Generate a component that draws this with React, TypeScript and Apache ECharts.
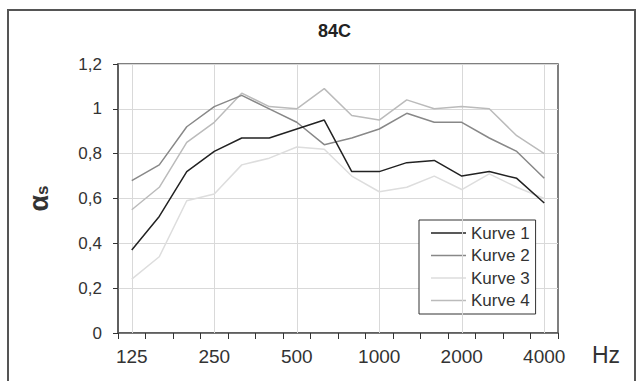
import React, { useEffect, useRef } from "react";
import * as echarts from "echarts";

const frequencies = ["125", "160", "200", "250", "315", "400", "500", "630", "800", "1000", "1250", "1600", "2000", "2500", "3150", "4000"];
const octaveLabels = ["125", "250", "500", "1000", "2000", "4000"];
const seriesNames = ["Kurve 1", "Kurve 2", "Kurve 3", "Kurve 4"];
const kurve1 = [0.37, 0.52, 0.72, 0.81, 0.87, 0.87, 0.91, 0.95, 0.72, 0.72, 0.76, 0.77, 0.70, 0.72, 0.69, 0.58];
const kurve2 = [0.68, 0.75, 0.92, 1.01, 1.06, 1.0, 0.94, 0.84, 0.87, 0.91, 0.98, 0.94, 0.94, 0.87, 0.81, 0.69];
const kurve3 = [0.24, 0.34, 0.59, 0.62, 0.75, 0.78, 0.83, 0.82, 0.70, 0.63, 0.65, 0.70, 0.64, 0.71, 0.65, 0.60];
const kurve4 = [0.55, 0.65, 0.85, 0.94, 1.07, 1.01, 1.0, 1.09, 0.97, 0.95, 1.04, 1.0, 1.01, 1.0, 0.88, 0.80];
const seriesColors = ["#222222", "#888888", "#dddddd", "#bbbbbb"];

const FONT = "'Liberation Sans', Arial, sans-serif";

export default function App() {
  const ref = useRef<HTMLDivElement>(null);
  useEffect(() => {
    if (!ref.current) return;
    const chart = echarts.init(ref.current, undefined, { renderer: "svg" });
    const values = [kurve1, kurve2, kurve3, kurve4];
    const series: any[] = values.map((v, i) => ({
      name: seriesNames[i],
      type: "line",
      data: v,
      symbol: "none",
      z: 10 - i,
      lineStyle: { color: seriesColors[i], width: 1.5 },
      itemStyle: { color: seriesColors[i] },
    }));
    series.push({
      name: "grid",
      type: "line",
      data: [],
      z: 1,
      markLine: {
        silent: true,
        symbol: "none",
        label: { show: false },
        lineStyle: { color: "#d9d9d9", type: "solid", width: 1 },
        data: octaveLabels.map((f) => ({ xAxis: f })),
      },
    });
    chart.setOption({
      animation: false,
      backgroundColor: "#ffffff",
      textStyle: { fontFamily: FONT },
      title: {
        text: "84C",
        left: 318,
        top: 22,
        padding: 0,
        textStyle: { fontFamily: FONT, fontSize: 18, fontWeight: "bold", color: "#222" },
      },
      grid: {
        left: 118,
        right: 86,
        top: 64,
        bottom: 48,
        show: true,
        borderColor: "#555",
        borderWidth: 1.5,
        backgroundColor: "transparent",
      },
      legend: {
        data: seriesNames,
        orient: "vertical",
        left: 419,
        top: 220,
        padding: [4.5, 6, 5, 12],
        itemGap: 5.5,
        itemWidth: 35,
        itemHeight: 1.5,
        icon: "rect",
        backgroundColor: "#fff",
        borderColor: "#333",
        borderWidth: 1,
        borderRadius: 0,
        textStyle: { fontFamily: FONT, fontSize: 17, color: "#333", lineHeight: 17 },
      },
      xAxis: {
        type: "category",
        data: frequencies,
        boundaryGap: true,
        name: "Hz",
        nameLocation: "end",
        nameGap: 34,
        nameTextStyle: { fontFamily: FONT, fontSize: 23, color: "#333", verticalAlign: "top", padding: [10, 0, 0, 0] },
        axisLine: { lineStyle: { color: "#555", width: 1.5 } },
        axisTick: { show: true, interval: 0, length: 6, lineStyle: { color: "#333", width: 1 } },
        axisLabel: { interval: 2, margin: 14, fontFamily: FONT, fontSize: 19, color: "#333" },
        splitLine: { show: false },
      },
      yAxis: {
        type: "value",
        min: 0,
        max: 1.2,
        interval: 0.2,
        name: "{a|α}{s|s}",
        nameLocation: "middle",
        nameRotate: 90,
        nameGap: 66,
        nameTextStyle: {
          rich: {
            a: { fontFamily: FONT, fontSize: 27, fontWeight: "bold", color: "#333" },
            s: { fontFamily: FONT, fontSize: 17, fontWeight: "bold", color: "#333", padding: [7, 0, 0, 0] },
          },
        },
        axisLine: { show: true, lineStyle: { color: "#555", width: 1.5 } },
        axisTick: { show: true, length: 5, lineStyle: { color: "#333", width: 1 } },
        axisLabel: {
          margin: 16,
          fontFamily: FONT,
          fontSize: 17,
          color: "#333",
          formatter: (v: number) => String(Math.round(v * 10) / 10).replace(".", ","),
        },
        splitLine: { show: true, lineStyle: { color: "#d9d9d9", width: 1 } },
      },
      graphic: [
        {
          type: "rect",
          silent: true,
          shape: { x: 8, y: 10, width: 627, height: 400 },
          style: { fill: "none", stroke: "#555", lineWidth: 2 },
        },
      ],
      series,
    });
    return () => chart.dispose();
  }, []);
  return <div ref={ref} style={{ position: "fixed", left: 0, top: 0, width: 644, height: 381 }} />;
}
